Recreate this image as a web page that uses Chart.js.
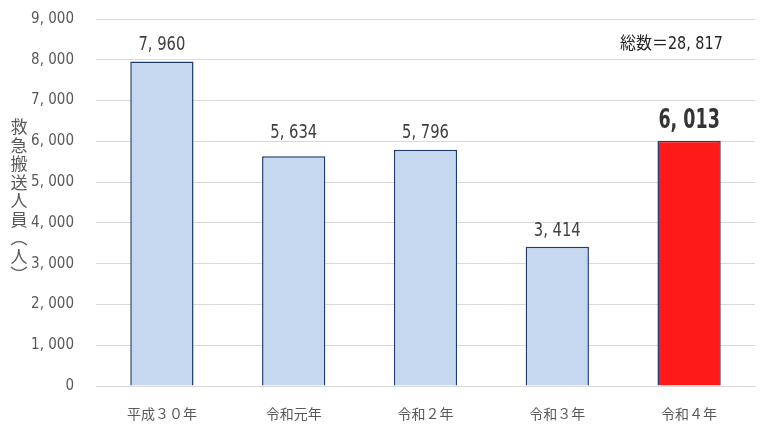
<!DOCTYPE html>
<html>
<head>
<meta charset="utf-8">
<script src="https://cdn.jsdelivr.net/npm/chart.js@4"></script>
<style>
  html, body { margin: 0; padding: 0; background: #fff; }
  #wrap { width: 765px; height: 427px; position: relative; }
</style>
</head>
<body>
<div id="wrap"><canvas id="chart"></canvas></div>
<script>
const categories = ['平成３０年', '令和元年', '令和２年', '令和３年', '令和４年'];
const values = [7960, 5634, 5796, 3414, 6013];
const barColors = ['#C6D8EF', '#C6D8EF', '#C6D8EF', '#C6D8EF', '#FF1A1A'];
const yTitleChars = ['救', '急', '搬', '送', '人', '員', '︵', '人', '︶'];
const totalLabel = '総数＝28, 817';

// gap (px) between bar top and its value label, as placed in the original
const labelGaps = [11, 18, 12, 11, 13];

const NARROW = "'Liberation Sans Narrow', 'DejaVu Sans Condensed', 'Noto Sans CJK JP', sans-serif";
const CJK = "'Noto Sans CJK JP', sans-serif";

function fmt(v) {
  return v.toLocaleString('en-US').replace(',', ', ');
}

// draw text squeezed horizontally (the original uses a narrow face)
function narrowText(ctx, text, x, y, sx) {
  ctx.save();
  ctx.translate(x, y);
  ctx.scale(sx, 1);
  ctx.fillText(text, 0, 0);
  ctx.restore();
}

// value labels above bars, last one emphasised
const valueLabels = {
  id: 'valueLabels',
  afterDatasetsDraw(chart) {
    const ctx = chart.ctx;
    const meta = chart.getDatasetMeta(0);
    ctx.save();
    ctx.textAlign = 'center';
    ctx.textBaseline = 'alphabetic';
    meta.data.forEach((bar, i) => {
      const last = i === values.length - 1;
      ctx.fillStyle = last ? '#333333' : '#404040';
      ctx.font = last ? 'bold 27px ' + NARROW : '20px ' + NARROW;
      narrowText(ctx, fmt(values[i]), bar.x, bar.y - labelGaps[i], last ? 0.72 : 0.82);
    });
    // total
    ctx.fillStyle = '#262626';
    ctx.font = '17px ' + NARROW;
    ctx.textAlign = 'left';
    narrowText(ctx, totalLabel, 620, 49, 0.94);
    ctx.restore();
  }
};

// vertical y-axis title, characters stacked
const yTitle = {
  id: 'yTitle',
  afterDraw(chart) {
    const ctx = chart.ctx;
    ctx.save();
    ctx.fillStyle = '#595959';
    ctx.font = '17px ' + CJK;
    ctx.textAlign = 'center';
    ctx.textBaseline = 'middle';
    yTitleChars.forEach((c, i) => {
      ctx.fillText(c, 19, 127 + i * 18.5);
    });
    ctx.restore();
  }
};

new Chart(document.getElementById('chart'), {
  type: 'bar',
  data: {
    labels: categories,
    datasets: [{
      data: values,
      backgroundColor: barColors,
      borderColor: '#1F3A6B',
      borderWidth: 1.5,
      categoryPercentage: 1,
      barPercentage: 0.48
    }]
  },
  options: {
    responsive: true,
    maintainAspectRatio: false,
    animation: false,
    layout: { padding: { top: 19, right: 10, left: 0, bottom: 0 } },
    plugins: {
      legend: { display: false },
      tooltip: { enabled: false }
    },
    scales: {
      y: {
        min: 0,
        max: 9000,
        afterFit(scale) {
          scale.width = 96;
          scale.paddingTop = 0;
          scale.paddingBottom = 0;
        },
        border: { display: false },
        grid: { color: '#D9D9D9', lineWidth: 1, drawTicks: false },
        ticks: {
          stepSize: 1000,
          padding: 22,
          color: '#595959',
          font: { family: NARROW, size: 15 },
          callback: v => fmt(v)
        }
      },
      x: {
        afterFit(scale) { scale.height = 41; },
        border: { display: true, color: '#D9D9D9' },
        grid: { display: false },
        ticks: {
          padding: 11,
          color: '#595959',
          font: { family: CJK, size: 14 }
        }
      }
    }
  },
  plugins: [valueLabels, yTitle]
});
</script>
</body>
</html>
